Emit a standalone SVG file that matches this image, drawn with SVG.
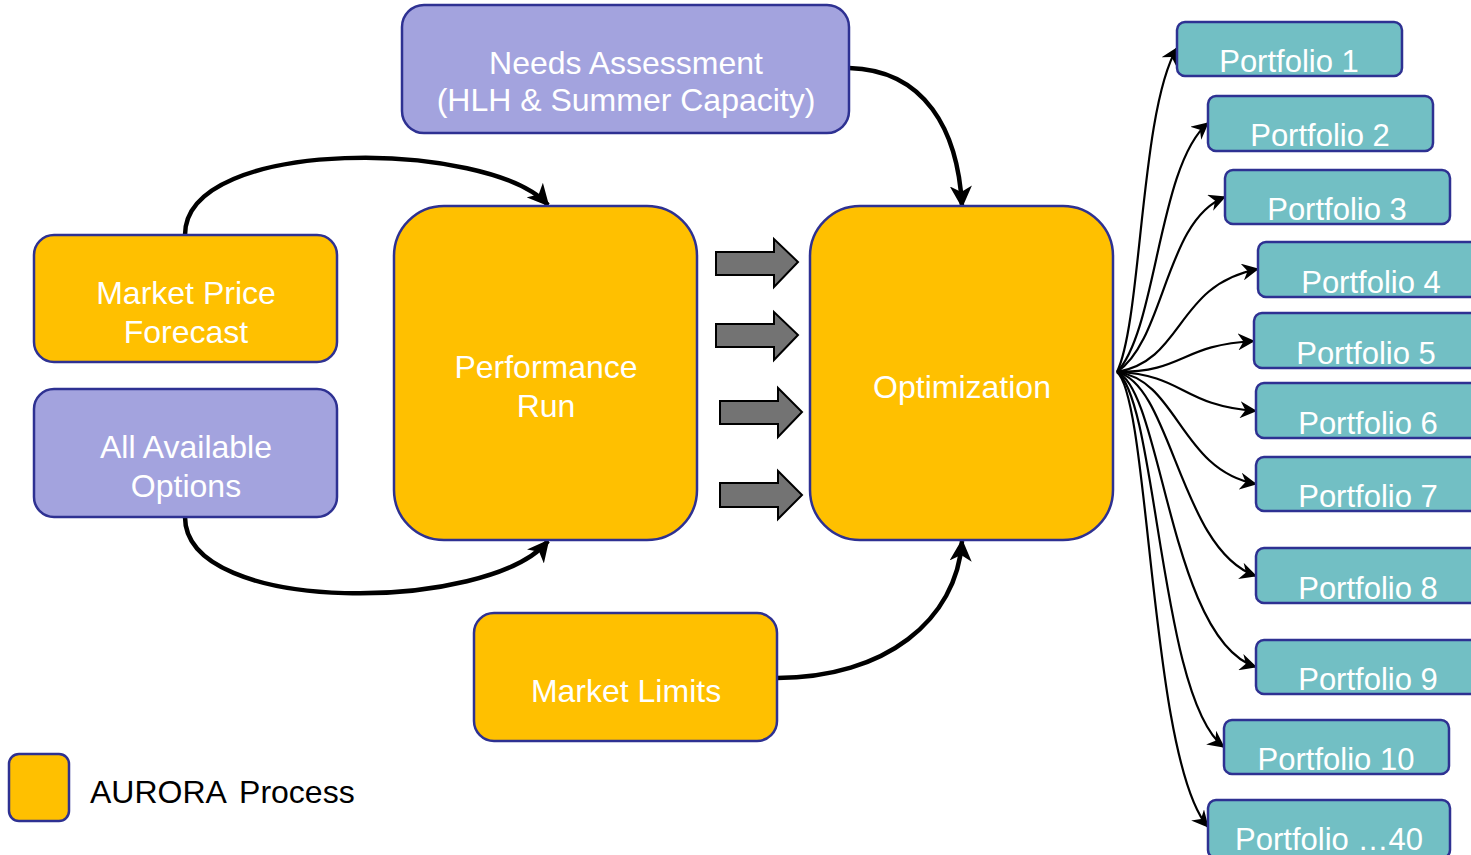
<svg xmlns="http://www.w3.org/2000/svg" width="1471" height="855" viewBox="0 0 1471 855">
  <style>
    .lbl { font-family: "Liberation Sans", Arial, sans-serif; font-size: 32px; fill: #ffffff; text-anchor: middle; }
    .port text { font-size: 31px; }
    .proc { fill: #FFC000; stroke: #2E3192; stroke-width: 2.5; }
    .input { fill: #A3A3DE; stroke: #2E3192; stroke-width: 2.5; }
    .box { fill: #72BFC4; stroke: #2E3192; stroke-width: 2.5; }
    .thick { fill: none; stroke: #000; stroke-width: 4.5; marker-end: url(#headBig); }
    .thin { fill: none; stroke: #000; stroke-width: 2.2; marker-end: url(#headSmall); }
    .block { fill: #737373; stroke: #000; stroke-width: 2; }
  </style>
  <defs>
    <marker id="headBig" viewBox="0 0 22 22" markerWidth="22" markerHeight="22" refX="20" refY="11" orient="auto" markerUnits="userSpaceOnUse">
      <path d="M0,0 L22,11 L0,22 L6,11 z" fill="#000"/>
    </marker>
    <marker id="headSmall" viewBox="0 0 16 16" markerWidth="17" markerHeight="17" refX="15" refY="8" orient="auto" markerUnits="userSpaceOnUse">
      <path d="M0,0 L16,8 L0,16 L5,8 z" fill="#000"/>
    </marker>
  </defs>

  <!-- process flow connectors -->
  <g id="connectors">
    <path class="thick" d="M185,235 C185,135 490,140 548,205"/>
    <path class="thick" d="M185,517 C185,617 490,612 548,541"/>
    <path class="thick" d="M849,68 C925,70 958,130 962,206"/>
    <path class="thick" d="M777,678 C885,678 957,620 962,541"/>

    <!-- block arrows between Performance Run and Optimization -->
    <path class="block" d="M716,252 L774,252 L774,239 L798,262 L774,287 L774,275 L716,275 z"/>
    <path class="block" d="M716,324 L774,324 L774,312 L798,335 L774,360 L774,347 L716,347 z"/>
    <path class="block" d="M720,401 L778,401 L778,388 L802,412 L778,437 L778,424 L720,424 z"/>
    <path class="block" d="M720,483 L778,483 L778,471 L802,495 L778,519 L778,507 L720,507 z"/>

    <!-- fan-out to portfolios -->
    <path class="thin" d="M1117,372 C1142,320 1140,110 1177,48"/>
    <path class="thin" d="M1117,372 C1157,330 1158,165 1208,123"/>
    <path class="thin" d="M1117,372 C1165,340 1165,220 1225,197"/>
    <path class="thin" d="M1117,372 C1185,360 1175,285 1258,269"/>
    <path class="thin" d="M1117,372 C1185,372 1180,345 1254,341"/>
    <path class="thin" d="M1117,372 C1185,375 1180,405 1256,411"/>
    <path class="thin" d="M1117,372 C1178,380 1180,470 1256,484"/>
    <path class="thin" d="M1117,372 C1172,385 1180,550 1256,576"/>
    <path class="thin" d="M1117,372 C1162,390 1170,640 1256,667"/>
    <path class="thin" d="M1117,372 C1157,400 1160,700 1224,747"/>
    <path class="thin" d="M1117,372 C1150,400 1150,760 1208,827"/>
  </g>

  <g id="needs">
    <rect class="input" x="402" y="5" width="447" height="128" rx="22"/>
    <text class="lbl" x="626" y="74">Needs Assessment</text>
    <text class="lbl" x="626" y="111">(HLH &amp; Summer Capacity)</text>
  </g>

  <g id="market-price">
    <rect class="proc" x="34" y="235" width="303" height="127" rx="20"/>
    <text class="lbl" x="186" y="304">Market Price</text>
    <text class="lbl" x="186" y="343">Forecast</text>
  </g>

  <g id="options">
    <rect class="input" x="34" y="389" width="303" height="128" rx="20"/>
    <text class="lbl" x="186" y="458">All Available</text>
    <text class="lbl" x="186" y="497">Options</text>
  </g>

  <g id="performance">
    <rect class="proc" x="394" y="206" width="303" height="334" rx="50"/>
    <text class="lbl" x="546" y="378">Performance</text>
    <text class="lbl" x="546" y="417">Run</text>
  </g>

  <g id="optimization">
    <rect class="proc" x="810" y="206" width="303" height="334" rx="50"/>
    <text class="lbl" x="962" y="398">Optimization</text>
  </g>

  <g id="market-limits">
    <rect class="proc" x="474" y="613" width="303" height="128" rx="20"/>
    <text class="lbl" x="626" y="702">Market Limits</text>
  </g>

  <g id="portfolio-1" class="port"><rect class="box" x="1177" y="22" width="225" height="54" rx="8"/><text class="lbl" x="1289" y="72">Portfolio 1</text></g>
  <g id="portfolio-2" class="port"><rect class="box" x="1208" y="96" width="225" height="55" rx="8"/><text class="lbl" x="1320" y="146">Portfolio 2</text></g>
  <g id="portfolio-3" class="port"><rect class="box" x="1225" y="170" width="225" height="54" rx="8"/><text class="lbl" x="1337" y="220">Portfolio 3</text></g>
  <g id="portfolio-4" class="port"><rect class="box" x="1258" y="242" width="225" height="55" rx="8"/><text class="lbl" x="1371" y="293">Portfolio 4</text></g>
  <g id="portfolio-5" class="port"><rect class="box" x="1254" y="313" width="225" height="55" rx="8"/><text class="lbl" x="1366" y="364">Portfolio 5</text></g>
  <g id="portfolio-6" class="port"><rect class="box" x="1256" y="383" width="225" height="55" rx="8"/><text class="lbl" x="1368" y="434">Portfolio 6</text></g>
  <g id="portfolio-7" class="port"><rect class="box" x="1256" y="457" width="225" height="54" rx="8"/><text class="lbl" x="1368" y="507">Portfolio 7</text></g>
  <g id="portfolio-8" class="port"><rect class="box" x="1256" y="548" width="225" height="55" rx="8"/><text class="lbl" x="1368" y="599">Portfolio 8</text></g>
  <g id="portfolio-9" class="port"><rect class="box" x="1256" y="640" width="225" height="54" rx="8"/><text class="lbl" x="1368" y="690">Portfolio 9</text></g>
  <g id="portfolio-10" class="port"><rect class="box" x="1224" y="720" width="225" height="54" rx="8"/><text class="lbl" x="1336" y="770">Portfolio 10</text></g>
  <g id="portfolio-40" class="port"><rect class="box" x="1208" y="800" width="242" height="58" rx="8"/><text class="lbl" x="1329" y="850">Portfolio …40</text></g>

  <g id="legend">
    <rect class="proc" x="9" y="754" width="60" height="67" rx="10"/>
    <text x="90" y="803" font-family="'Liberation Sans', Arial, sans-serif" font-size="32" fill="#000" word-spacing="5">AURORA Process</text>
  </g>
</svg>
